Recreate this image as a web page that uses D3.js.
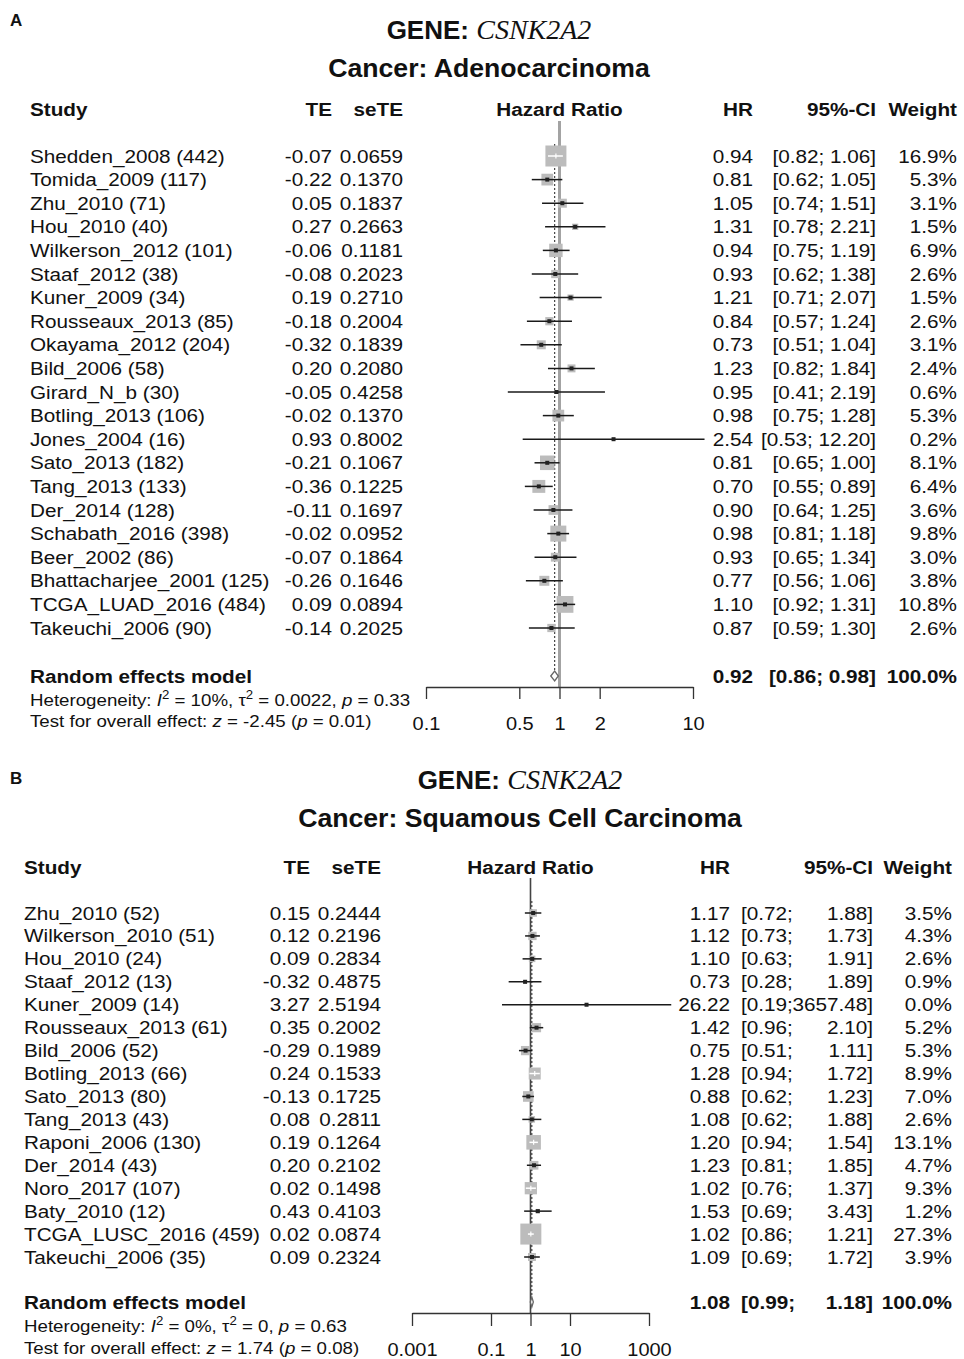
<!DOCTYPE html>
<html><head><meta charset="utf-8">
<script src="https://cdn.jsdelivr.net/npm/d3@7"></script>
<style>body{margin:0;background:#fff}svg{display:block}</style>
</head><body><svg id="c"></svg>
<script>
// ---------- Panel A data (Adenocarcinoma) ----------
const studiesA = ["Shedden_2008 (442)","Tomida_2009 (117)","Zhu_2010 (71)","Hou_2010 (40)","Wilkerson_2012 (101)","Staaf_2012 (38)","Kuner_2009 (34)","Rousseaux_2013 (85)","Okayama_2012 (204)","Bild_2006 (58)","Girard_N_b (30)","Botling_2013 (106)","Jones_2004 (16)","Sato_2013 (182)","Tang_2013 (133)","Der_2014 (128)","Schabath_2016 (398)","Beer_2002 (86)","Bhattacharjee_2001 (125)","TCGA_LUAD_2016 (484)","Takeuchi_2006 (90)"];
const teA = [-0.07,-0.22,0.05,0.27,-0.06,-0.08,0.19,-0.18,-0.32,0.20,-0.05,-0.02,0.93,-0.21,-0.36,-0.11,-0.02,-0.07,-0.26,0.09,-0.14];
const seteA = [0.0659,0.1370,0.1837,0.2663,0.1181,0.2023,0.2710,0.2004,0.1839,0.2080,0.4258,0.1370,0.8002,0.1067,0.1225,0.1697,0.0952,0.1864,0.1646,0.0894,0.2025];
const hrA = [0.94,0.81,1.05,1.31,0.94,0.93,1.21,0.84,0.73,1.23,0.95,0.98,2.54,0.81,0.70,0.90,0.98,0.93,0.77,1.10,0.87];
const lowerA = [0.82,0.62,0.74,0.78,0.75,0.62,0.71,0.57,0.51,0.82,0.41,0.75,0.53,0.65,0.55,0.64,0.81,0.65,0.56,0.92,0.59];
const upperA = [1.06,1.05,1.51,2.21,1.19,1.38,2.07,1.24,1.04,1.84,2.19,1.28,12.20,1.00,0.89,1.25,1.18,1.34,1.06,1.31,1.30];
const weightA = [16.9,5.3,3.1,1.5,6.9,2.6,1.5,2.6,3.1,2.4,0.6,5.3,0.2,8.1,6.4,3.6,9.8,3.0,3.8,10.8,2.6];
const pooledA = [0.92,0.86,0.98]; // HR, lower, upper
const hetA = ["10%","0.0022","0.33"]; // I2, tau2, p
const testA = ["-2.45","0.01"]; // z, p
const ticksA = [0.1,0.5,1,2,10];

// ---------- Panel B data (Squamous Cell Carcinoma) ----------
const studiesB = ["Zhu_2010 (52)","Wilkerson_2010 (51)","Hou_2010 (24)","Staaf_2012 (13)","Kuner_2009 (14)","Rousseaux_2013 (61)","Bild_2006 (52)","Botling_2013 (66)","Sato_2013 (80)","Tang_2013 (43)","Raponi_2006 (130)","Der_2014 (43)","Noro_2017 (107)","Baty_2010 (12)","TCGA_LUSC_2016 (459)","Takeuchi_2006 (35)"];
const teB = [0.15,0.12,0.09,-0.32,3.27,0.35,-0.29,0.24,-0.13,0.08,0.19,0.20,0.02,0.43,0.02,0.09];
const seteB = [0.2444,0.2196,0.2834,0.4875,2.5194,0.2002,0.1989,0.1533,0.1725,0.2811,0.1264,0.2102,0.1498,0.4103,0.0874,0.2324];
const hrB = [1.17,1.12,1.10,0.73,26.22,1.42,0.75,1.28,0.88,1.08,1.20,1.23,1.02,1.53,1.02,1.09];
const lowerB = [0.72,0.73,0.63,0.28,0.19,0.96,0.51,0.94,0.62,0.62,0.94,0.81,0.76,0.69,0.86,0.69];
const upperB = [1.88,1.73,1.91,1.89,3657.48,2.10,1.11,1.72,1.23,1.88,1.54,1.85,1.37,3.43,1.21,1.72];
const weightB = [3.5,4.3,2.6,0.9,0.0,5.2,5.3,8.9,7.0,2.6,13.1,4.7,9.3,1.2,27.3,3.9];
const pooledB = [1.08,0.99,1.18];
const hetB = ["0%","0","0.63"];
const testB = ["1.74","0.08"];
const ticksB = [0.001,0.1,1,10,1000];

// ---------- drawing ----------
const W = 964, H = 1359;
const SANS = "'Liberation Sans', Arial, Helvetica, sans-serif";
const SERIF = "'Liberation Serif', 'Times New Roman', serif";
const SX = 1.12;
const svg = d3.select("#c").attr("width", W).attr("height", H);
svg.append("rect").attr("width", W).attr("height", H).attr("fill", "#fff");

function txt(g, x, y, s, o = {}) {
  const t = g.append("text")
    .attr("transform", `translate(${x},${y}) scale(${o.sx ?? SX},1)`)
    .attr("text-anchor", o.anchor || "start")
    .style("font-family", o.family || SANS)
    .style("font-size", (o.size || 18.5) + "px")
    .style("font-weight", o.weight || "normal")
    .style("font-style", o.style || "normal")
    .attr("fill", o.fill || "#111");
  if (s !== undefined) t.text(s);
  return t;
}

function drawPanel(L, D) {
  const g = svg.append("g");
  const x = d3.scaleLog().domain(D.domain).range(L.xRange);
  const y = d3.scaleLinear().domain([0, D.studies.length - 1]).range([L.row0, L.rowLast]);

  // panel letter
  txt(g, L.labelX, L.labelY, D.letter, {size: 17, weight: "bold", sx: 1});

  // titles
  const t1 = txt(g, L.titleCx, L.title1Y, undefined, {anchor: "middle", size: 26, weight: "bold", sx: 1});
  t1.append("tspan").text("GENE: ");
  t1.append("tspan").style("font-family", SERIF).style("font-style", "italic")
    .style("font-weight", "normal").style("font-size", "28px").text(D.gene);
  txt(g, L.titleCx, L.title2Y, D.cancer, {anchor: "middle", size: 26.5, weight: "bold", sx: 1.005});

  // header
  const hb = {weight: "bold"};
  txt(g, L.studyX, L.headerY, "Study", hb);
  txt(g, L.teX, L.headerY, "TE", {...hb, anchor: "end"});
  txt(g, L.seX, L.headerY, "seTE", {...hb, anchor: "end"});
  txt(g, x(1), L.headerY, "Hazard Ratio", {...hb, anchor: "middle"});
  txt(g, L.hrX, L.headerY, "HR", {...hb, anchor: "end"});
  txt(g, L.ciHiX, L.headerY, "95%-CI", {...hb, anchor: "end"});
  txt(g, L.wX, L.headerY, "Weight", {...hb, anchor: "end"});

  // reference line at 1
  g.append("line").attr("x1", x(1)).attr("x2", x(1))
    .attr("y1", L.refTop).attr("y2", L.axisY)
    .attr("stroke", L.refColor).attr("stroke-width", L.refWidth);
  // pooled estimate dotted line
  g.append("line").attr("x1", x(D.pooled[0])).attr("x2", x(D.pooled[0]))
    .attr("y1", L.row0 - 12).attr("y2", L.pooledY - 5)
    .attr("stroke", "#333").attr("stroke-width", 1.1).attr("stroke-dasharray", "2,2");

  function ciText(b, lo, hi, o) {
    if (L.ciSplit) {
      txt(g, L.ciLoX, b, "[" + lo.toFixed(2) + ";", o);
      txt(g, L.ciHiX, b, hi.toFixed(2) + "]", {...o, anchor: "end"});
    } else {
      txt(g, L.ciHiX, b, "[" + lo.toFixed(2) + "; " + hi.toFixed(2) + "]", {...o, anchor: "end"});
    }
  }

  const maxW = d3.max(D.w);
  D.studies.forEach((s, i) => {
    const yy = y(i);
    const cx = x(D.hr[i]);
    const x1 = x(D.lo[i]), x2 = x(D.hi[i]);
    const side = L.boxMax * Math.sqrt(D.w[i] / maxW);
    if (side > 0.5) {
      g.append("rect").attr("x", cx - side / 2).attr("y", yy - side / 2)
        .attr("width", side).attr("height", side).attr("fill", "#bcbcbc");
    }
    const inside = x1 >= cx - side / 2 && x2 <= cx + side / 2;
    g.append("line").attr("x1", x1).attr("x2", x2).attr("y1", yy).attr("y2", yy)
      .attr("stroke", inside ? "#fff" : "#1a1a1a").attr("stroke-width", 1.5);
    if (!inside) {
      g.append("rect").attr("x", cx - 2).attr("y", yy - 2).attr("width", 4).attr("height", 4)
        .attr("fill", "#222");
    } else {
      g.append("line").attr("x1", cx).attr("x2", cx).attr("y1", yy - 2.5).attr("y2", yy + 2.5)
        .attr("stroke", "#fff").attr("stroke-width", 1.2);
    }
    const b = yy + 6.5;
    txt(g, L.studyX, b, s);
    txt(g, L.teX, b, D.te[i].toFixed(2), {anchor: "end"});
    txt(g, L.seX, b, D.se[i].toFixed(4), {anchor: "end"});
    txt(g, L.hrX, b, D.hr[i].toFixed(2), {anchor: "end"});
    ciText(b, D.lo[i], D.hi[i], {});
    txt(g, L.wX, b, D.w[i].toFixed(1) + "%", {anchor: "end"});
  });

  // pooled row
  const py = L.pooledY;
  const dx1 = x(D.pooled[1]), dx2 = x(D.pooled[2]), dxc = x(D.pooled[0]);
  g.append("path").attr("d", `M${dx1},${py} L${dxc},${py - 5} L${dx2},${py} L${dxc},${py + 5} Z`)
    .attr("fill", "#fff").attr("stroke", "#666").attr("stroke-width", 1.3);
  const pb = py + 6.5;
  txt(g, L.studyX, pb, "Random effects model", hb);
  txt(g, L.hrX, pb, D.pooled[0].toFixed(2), {...hb, anchor: "end"});
  ciText(pb, D.pooled[1], D.pooled[2], hb);
  txt(g, L.wX, pb, "100.0%", {...hb, anchor: "end"});

  // heterogeneity / test
  const fs = {size: 17, sx: 1.1};
  const h = txt(g, L.studyX, L.hetY, undefined, fs);
  h.append("tspan").text("Heterogeneity: ");
  h.append("tspan").style("font-style", "italic").text("I");
  h.append("tspan").attr("dy", -7).style("font-size", "12px").text("2");
  h.append("tspan").attr("dy", 7).text(" = " + D.het[0] + ", \u03C4");
  h.append("tspan").attr("dy", -7).style("font-size", "12px").text("2");
  h.append("tspan").attr("dy", 7).text(" = " + D.het[1] + ", ");
  h.append("tspan").style("font-style", "italic").text("p");
  h.append("tspan").text(" = " + D.het[2]);

  const tt = txt(g, L.studyX, L.testY, undefined, fs);
  tt.append("tspan").text("Test for overall effect: ");
  tt.append("tspan").style("font-style", "italic").text("z");
  tt.append("tspan").text(" = " + D.test[0] + " (");
  tt.append("tspan").style("font-style", "italic").text("p");
  tt.append("tspan").text(" = " + D.test[1] + ")");

  // axis
  const ax = g.append("g").attr("transform", `translate(0,${L.axisY})`)
    .call(d3.axisBottom(x).tickValues(D.ticks).tickSize(L.tickLen).tickSizeOuter(0)
      .tickPadding(L.tickPad).tickFormat(d => String(d)));
  ax.select(".domain").attr("stroke", "#333").attr("stroke-width", 1.3);
  ax.selectAll(".tick line").attr("stroke", "#333").attr("stroke-width", 1.3);
  ax.selectAll(".tick text").attr("fill", "#111")
    .style("font-family", SANS).style("font-size", "18.5px")
    .attr("transform", "scale(1.08,1)");
}

drawPanel({
  labelX: 10, labelY: 26, titleCx: 489, title1Y: 39, title2Y: 77,
  headerY: 116, studyX: 30, teX: 332, seX: 403, hrX: 753, ciSplit: false, ciLoX: 771, ciHiX: 876, wX: 957,
  row0: 156, rowLast: 628, pooledY: 676, hetY: 706, testY: 727,
  xRange: [426, 693], axisY: 687, tickLen: 12, tickPad: 18,
  refTop: 121, refColor: "#a3a3a3", refWidth: 3, boxMax: 21
}, {
  letter: "A", gene: "CSNK2A2", cancer: "Cancer: Adenocarcinoma",
  studies: studiesA, te: teA, se: seteA, hr: hrA, lo: lowerA, hi: upperA, w: weightA,
  pooled: pooledA, het: hetA, test: testA, ticks: ticksA, domain: [0.1, 10]
});

drawPanel({
  labelX: 10, labelY: 784, titleCx: 520, title1Y: 789, title2Y: 827,
  headerY: 874, studyX: 24, teX: 310, seX: 381, hrX: 730, ciSplit: true, ciLoX: 741, ciHiX: 873, wX: 952,
  row0: 913, rowLast: 1257, pooledY: 1302, hetY: 1332, testY: 1354,
  xRange: [412, 649], axisY: 1313, tickLen: 13, tickPad: 17,
  refTop: 878, refColor: "#444", refWidth: 1.6, boxMax: 21
}, {
  letter: "B", gene: "CSNK2A2", cancer: "Cancer: Squamous Cell Carcinoma",
  studies: studiesB, te: teB, se: seteB, hr: hrB, lo: lowerB, hi: upperB, w: weightB,
  pooled: pooledB, het: hetB, test: testB, ticks: ticksB, domain: [0.001, 1000]
});
</script>
</body></html>
